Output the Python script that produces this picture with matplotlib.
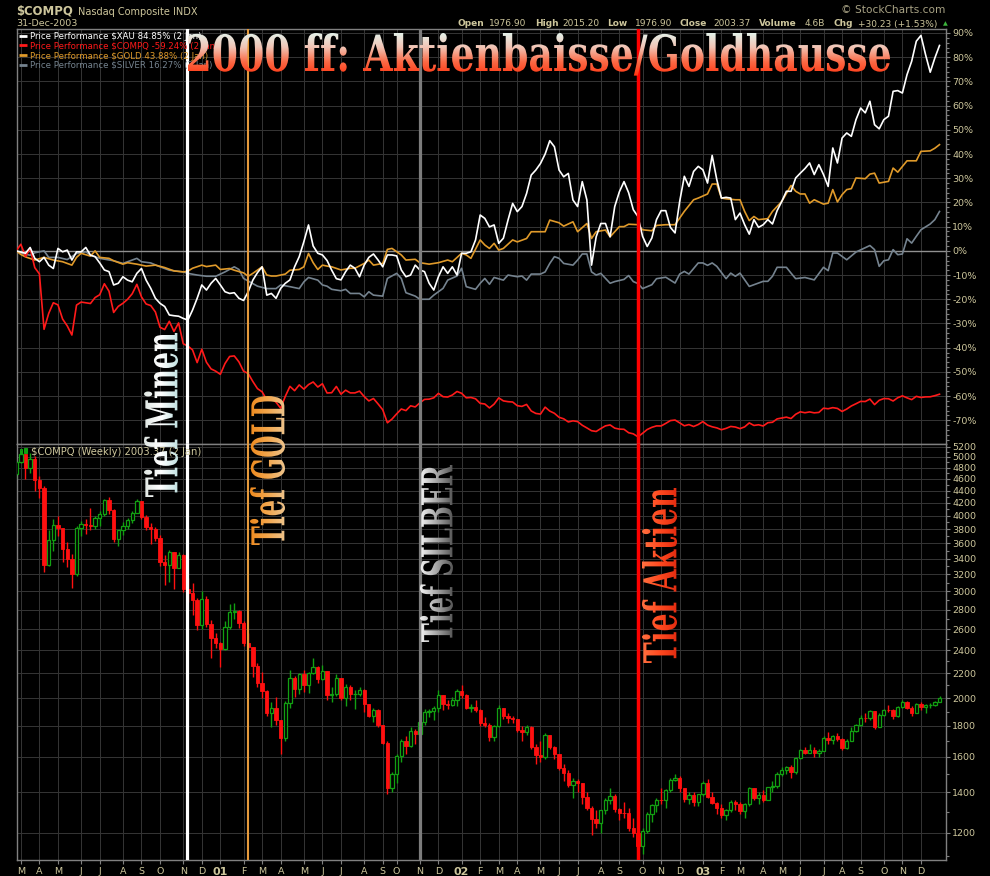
import numpy as np
import pandas as pd
import matplotlib
matplotlib.use("Agg")
import matplotlib.pyplot as plt
from matplotlib.patches import Rectangle, PathPatch
from matplotlib.textpath import TextPath
from matplotlib.font_manager import FontProperties
from matplotlib.colors import LinearSegmentedColormap
from matplotlib.ticker import FixedLocator, NullFormatter
from matplotlib.transforms import Affine2D

plt.rcParams['axes.unicode_minus'] = False
plt.rcParams['font.family'] = 'DejaVu Sans'

# weekly bars (Friday dates), the 14-Sep-2001 week is missing in the chart
bar_dates = pd.date_range("2000-03-03", "2004-01-02", freq="W-FRI")
bar_dates = bar_dates[bar_dates != pd.Timestamp("2001-09-14")]

# Nasdaq weekly closes
compq_close = [
    4914, 5048, 4798, 4963, 4573, 4446, 3321, 3643, 3860, 3817, 3529, 3390, 3205,
    3813, 3874, 3860, 3845, 3966, 4023, 4246, 4094, 3663, 3787, 3849, 3930, 4042,
    4234, 3979, 3835, 3803, 3673, 3361, 3317, 3484, 3278, 3451, 3028, 2980, 2904,
    2645, 2917, 2653, 2517, 2471,
    2407, 2626, 2770, 2781, 2660, 2470, 2425, 2262, 2117, 2052, 1890, 1928, 1840,
    1720, 1961, 2163, 2075, 2192, 2107, 2199, 2252, 2149, 2216, 2028, 2034, 2161,
    2004, 2085, 2030, 2030, 2066, 1956, 1867, 1916, 1805, 1687, 1423, 1499,
    1605, 1703, 1671, 1768, 1745, 1828, 1898, 1903, 1930, 2021, 1953, 1946, 1987,
    2059, 2022, 1930, 1937, 1911, 1818, 1805, 1725, 1802, 1929, 1868, 1852, 1845,
    1770, 1756, 1796, 1663, 1613, 1600, 1741, 1661, 1616, 1535, 1504, 1440, 1463,
    1448, 1373, 1319, 1262, 1247, 1306, 1361, 1380, 1315, 1295, 1291, 1221, 1199,
    1139, 1210, 1287, 1331, 1360, 1359, 1411, 1468, 1479, 1422, 1362, 1387, 1348,
    1388, 1448, 1376, 1342, 1320, 1282, 1310, 1349, 1337, 1305, 1340, 1421, 1369,
    1383, 1358, 1425, 1434, 1502, 1520, 1538, 1510, 1596, 1646, 1627, 1644, 1625,
    1634, 1720, 1708, 1731, 1715, 1653, 1702, 1765, 1810, 1858, 1855, 1905, 1792,
    1880, 1915, 1912, 1866, 1932, 1970, 1930, 1893, 1960, 1937, 1949, 1951, 1974,
    2003.37,
]
compq_high = [
    4960, 5132, 4990, 5080, 5020, 4650, 4470, 3790, 3950, 4000, 3800, 3620, 3460,
    3840, 3920, 3950, 4120, 3990, 4070, 4270, 4290, 4110, 3790, 3900, 3960, 4070,
    4260, 4210, 4010, 3890, 3830, 3720, 3440, 3510, 3490, 3490, 3460, 3160, 3100,
    2930, 3000, 2950, 2690, 2560,
    2480, 2680, 2860, 2870, 2800, 2680, 2560, 2430, 2290, 2210, 2060, 1970, 2010,
    1840, 1980, 2230, 2180, 2200, 2230, 2210, 2330, 2260, 2270, 2220, 2090, 2190,
    2150, 2110, 2100, 2060, 2090, 2070, 1960, 1930, 1920, 1810, 1700, 1510,
    1620, 1710, 1730, 1790, 1780, 1850, 1920, 1920, 1940, 2060, 2020, 1990, 2010,
    2070, 2100, 2030, 1960, 1990, 1920, 1860, 1820, 1810, 1950, 1920, 1890, 1870,
    1850, 1800, 1810, 1800, 1680, 1700, 1750, 1730, 1670, 1620, 1560, 1520, 1480,
    1470, 1450, 1400, 1330, 1310, 1310, 1370, 1420, 1390, 1320, 1350, 1320, 1270,
    1230, 1220, 1300, 1340, 1370, 1420, 1415, 1480, 1500, 1490, 1420, 1400, 1400,
    1390, 1460, 1470, 1400, 1350, 1340, 1315, 1360, 1360, 1350, 1345, 1425, 1410,
    1400, 1410, 1430, 1460, 1510, 1540, 1545, 1550, 1600, 1650, 1660, 1680, 1660,
    1650, 1730, 1760, 1740, 1750, 1720, 1710, 1790, 1815, 1880, 1890, 1910, 1900,
    1890, 1920, 1950, 1920, 1940, 1990, 1980, 1940, 1965, 1970, 1960, 1965, 1980,
    2016,
]
compq_low = [
    4600, 4880, 4590, 4700, 4400, 4280, 3230, 3300, 3500, 3700, 3350, 3290, 3040,
    3180, 3700, 3730, 3790, 3800, 3850, 4000, 4030, 3620, 3560, 3720, 3810, 3890,
    4040, 3950, 3790, 3590, 3630, 3310, 3070, 3110, 3030, 3280, 2990, 2880, 2740,
    2590, 2600, 2620, 2330, 2420,
    2250, 2400, 2600, 2700, 2610, 2440, 2410, 2170, 2090, 2000, 1870, 1790, 1810,
    1620, 1700, 1930, 2010, 2030, 2050, 2040, 2190, 2120, 2140, 1990, 1970, 2020,
    1990, 1940, 1990, 1920, 2020, 1900, 1860, 1830, 1790, 1680, 1390, 1400,
    1450, 1570, 1620, 1660, 1680, 1730, 1810, 1860, 1840, 1900, 1910, 1920, 1940,
    1940, 2000, 1920, 1900, 1900, 1800, 1790, 1700, 1700, 1790, 1850, 1820, 1820,
    1760, 1700, 1740, 1650, 1560, 1570, 1590, 1650, 1590, 1520, 1460, 1430, 1370,
    1400, 1340, 1310, 1190, 1220, 1200, 1290, 1340, 1300, 1260, 1270, 1210, 1180,
    1120, 1108, 1200, 1250, 1300, 1340, 1320, 1400, 1460, 1400, 1350, 1340, 1330,
    1330, 1380, 1370, 1340, 1290, 1270, 1260, 1300, 1310, 1290, 1270, 1330, 1360,
    1340, 1350, 1360, 1400, 1420, 1490, 1500, 1480, 1500, 1590, 1620, 1630, 1600,
    1600, 1640, 1680, 1680, 1700, 1640, 1650, 1700, 1760, 1800, 1830, 1840, 1780,
    1790, 1870, 1900, 1850, 1860, 1930, 1920, 1870, 1890, 1910, 1890, 1930, 1940,
    1976,
]
compq_first_open = 4680

# price performance in %
xau_pct = [
    0, -0.5, -1.0, 1.4, -3.1, -4.5, -2.7, -5.9, -7.3, 1.0, -0.4, 0.3, -3.8, -0.4,
    -0.4, 1.4, -1.8, -2.4, -5.0, -7.9, -8.6, -14.1, -13.4, -10.7, -12.1, -12.8,
    -9.3, -7.3, -12.1, -15.5, -19.6, -21.7, -23.0, -26.5, -26.8, -27.0, -27.9,
    -28.6, -24.5, -19.6, -14.1, -16.2, -13.4, -11.4, -14.1, -16.9, -17.6, -17.3,
    -19.6, -20.5, -16.9, -12.1, -9.0, -6.6, -18.3, -17.6, -19.6, -15.5, -13.4,
    -12.0, -6.6, -2.4, 3.8, 10.7, 2.0, -1.0, -1.7, -4.0, -8.0, -11.5, -12.0, -8.6,
    -5.9, -7.2, -10.7, -5.9, -2.7, -1.3, -3.8, -6.6, -1.7, -1.7, -2.1, -7.9,
    -10.7, -10.0, -5.9, -7.9, -8.6, -13.4, -16.2, -10.7, -6.6, -9.3, -6.6, -10.0,
    -1.0, -1.0, -0.4, 4.5, 14.8, 13.4, 9.9, 10.7, 3.1, 5.2, 12.7, 19.6, 16.2,
    18.3, 23.7, 31.3, 33.4, 36.1, 40.0, 45.5, 43.0, 33.4, 30.6, 32.0, 21.0, 18.3,
    28.6, 21.0, -5.9, 5.8, 11.3, 11.3, 5.8, 18.3, 24.4, 28.6, 24.0, 17.0, 14.2,
    6.0, 1.8, 5.3, 12.9, 16.6, 16.6, 9.7, 7.4, 20.4, 30.8, 26.6, 32.8, 34.9, 33.5,
    28.0, 39.4, 29.4, 21.8, 22.1, 21.8, 12.9, 15.6, 10.8, 6.9, 12.9, 9.7, 10.8,
    12.9, 11.1, 16.6, 20.4, 24.6, 24.6, 30.1, 32.1, 34.0, 36.3, 31.5, 35.6, 31.5,
    26.6, 42.5, 36.3, 46.6, 48.7, 47.3, 54.2, 59.0, 57.0, 61.8, 52.1, 50.4, 54.2,
    55.6, 65.9, 66.2, 65.2, 72.8, 78.3, 86.6, 89.0, 81.0, 73.8, 79.7, 84.85,
]
gold_idx = [
    0, 1, 2, 4, 6, 8, 10, 12, 13, 14, 16, 17, 18, 20, 21, 23, 24, 26, 28, 30, 32,
    34, 36, 37, 38, 40, 41, 43, 44, 46, 47, 49, 50, 51, 53, 54, 55, 56, 58, 59,
    61, 62, 63, 64, 65, 66, 67, 68, 70, 72, 73, 75, 76, 77, 79, 80, 81, 83, 84,
    86, 87, 89, 91, 93, 94, 96, 97, 98, 100, 101, 102, 103, 104, 105, 107, 108,
    110, 111, 114, 115, 117, 118, 120, 121, 123, 124, 125, 127, 128, 130, 131,
    132, 134, 135, 137, 138, 140, 142, 144, 146, 147, 149, 150, 151, 152, 153,
    155, 156, 157, 158, 159, 160, 162, 163, 165, 167, 168, 169, 170, 171, 172,
    174, 175, 176, 177, 178, 179, 180, 181, 183, 184, 185, 186, 188, 189, 190,
    192, 194, 195, 197, 198, 199,
]
gold_pct = [
    0, -1.5, -2.5, -3.8, -2.7, -3.8, -4.5, -5.9, -2.7, -1.0, -2.2, 0, -2.7, -3.1,
    -4.1, -5.5, -4.9, -5.5, -6.3, -5.9, -6.9, -8.3, -8.7, -8.4, -7.2, -5.9, -6.5,
    -5.9, -7.7, -7.3, -8.0, -9.1, -10.5, -9.3, -6.6, -10.0, -10.4, -10.4, -9.6,
    -8.0, -7.7, -6.6, -1.1, -4.9, -7.7, -5.9, -6.3, -6.6, -7.9, -7.2, -7.2, -5.2,
    -3.8, -5.9, -5.2, 0.6, 1.0, -1.7, -3.8, -3.5, -4.9, -5.5, -4.9, -3.8, -4.5,
    -1.0, -1.7, -3.1, 4.5, 2.4, 1.0, 3.1, 0.3, 1.0, 4.5, 3.7, 5.1, 7.9, 7.9, 12.7,
    11.6, 10.2, 12.0, 7.9, 11.3, 5.1, 7.9, 8.6, 5.8, 10.0, 10.0, 11.0, 10.8, 8.7,
    8.3, 10.5, 10.8, 10.8, 16.3, 21.1, 21.8, 23.5, 27.6, 27.6, 21.8, 21.5, 21.1,
    21.1, 16.3, 12.5, 14.2, 12.9, 13.3, 16.3, 20.4, 27.0, 24.6, 23.5, 23.5, 19.7,
    21.1, 19.3, 19.7, 25.3, 20.2, 23.2, 25.3, 25.7, 30.1, 29.8, 31.7, 32.1, 28.0,
    28.7, 34.2, 32.5, 37.2, 37.2, 41.1, 41.3, 42.4, 43.88,
]
silver_idx = [
    0, 1, 3, 4, 6, 7, 9, 11, 13, 15, 16, 18, 21, 23, 24, 26, 27, 29, 31, 33, 36,
    37, 39, 41, 43, 45, 47, 48, 49, 51, 52, 54, 56, 57, 59, 61, 62, 63, 65, 66,
    67, 68, 70, 71, 72, 74, 75, 76, 77, 79, 80, 82, 83, 84, 86, 87, 89, 90, 92,
    93, 95, 96, 97, 99, 100, 101, 102, 103, 105, 106, 108, 109, 110, 111, 113,
    114, 115, 116, 117, 118, 120, 121, 122, 123, 124, 125, 126, 128, 129, 131,
    132, 133, 134, 135, 137, 138, 140, 142, 143, 144, 145, 147, 148, 149, 150,
    151, 153, 154, 155, 156, 158, 160, 161, 162, 163, 164, 166, 167, 168, 170,
    172, 174, 175, 176, 177, 179, 181, 184, 185, 186, 187, 188, 189, 190, 191,
    192, 193, 194, 195, 197, 198, 199,
]
silver_pct = [
    0, -1.0, -1.8, -0.8, 0, -2.7, -2.7, -3.6, -1.1, -0.4, -1.8, -3.1, -4.1, -5.2,
    -4.5, -3.1, -4.5, -5.0, -6.6, -8.0, -8.7, -9.3, -10.0, -10.5, -10.5, -8.7,
    -6.6, -7.7, -11.4, -13.5, -14.6, -15.6, -15.6, -14.1, -14.8, -15.6, -12.8,
    -11.0, -12.1, -14.1, -14.6, -15.9, -16.5, -15.9, -17.6, -17.6, -19.0, -16.9,
    -18.3, -18.7, -11.4, -9.3, -11.4, -17.3, -18.7, -20.0, -20.0, -18.3, -15.5,
    -12.1, -10.4, -7.2, -14.8, -15.9, -13.4, -11.4, -13.8, -11.0, -12.1, -10.0,
    -10.7, -10.4, -12.1, -9.6, -9.6, -8.7, -5.2, -2.4, -3.1, -5.2, -5.9, -3.8,
    -1.3, -1.3, -8.7, -10.0, -9.3, -13.4, -12.7, -11.8, -10.2, -12.7, -13.5,
    -15.6, -14.0, -11.5, -10.9, -13.3, -9.6, -8.5, -9.6, -5.0, -5.0, -6.0, -5.0,
    -6.4, -11.5, -9.2, -10.5, -9.2, -14.7, -13.3, -12.6, -12.6, -10.5, -6.8,
    -6.8, -9.2, -11.5, -11.0, -12.0, -6.8, -8.2, -0.9, -0.9, -3.7, -0.5, 2.2,
    0.5, -6.4, -4.1, -3.7, 0.5, -1.6, -1.3, 5.0, 3.2, 6.0, 8.7, 11.1, 12.9, 16.27,
]

legend_labels = [
    "Price Performance $XAU 84.85% (2 Jan)",
    "Price Performance $COMPQ -59.24% (2 Jan)",
    "Price Performance $GOLD 43.88% (2 Jan)",
    "Price Performance $SILVER 16.27% (2 Jan)",
]
event_bars = [36.8, 50.0, 87.0, 134.0]
event_labels = ["Tief Minen", "Tief GOLD", "Tief SILBER", "Tief Aktien"]

pct_ticks = list(range(-70, 100, 10))
price_ticks = list(range(1200, 5400, 200))

# colours
BG = "black"
GRID = "#333333"
SPINE = "#808080"
BEIGE = "#cdc69c"
GREEN = "#12a012"
RED = "#ff1010"
C_XAU, C_COMPQ, C_GOLD, C_SILVER = "#ffffff", "#ff1a1a", "#e09a2a", "#75838f"
event_colors = ["#ffffff", "#e69a3c", "#7c7c7c", "#ff0000"]
event_widths = [2.3, 1.5, 2.3, 2.5]

W, H = 990, 876
fig = plt.figure(figsize=(W / 100, H / 100), dpi=100, facecolor=BG)


def box(x0, y0, x1, y1):
    return [x0 / W, 1 - y1 / H, (x1 - x0) / W, (y1 - y0) / H]


ax_top = fig.add_axes(box(17, 29, 946, 444))
ax_bot = fig.add_axes(box(17, 444, 946, 860), sharex=ax_top)

n = len(bar_dates)
x = np.arange(n)
close = np.array(compq_close, dtype=float)
opn = np.concatenate([[compq_first_open], close[:-1]])
high = np.maximum(np.array(compq_high, dtype=float), np.maximum(opn, close))
low = np.minimum(np.array(compq_low, dtype=float), np.minimum(opn, close))

# month ticks: first bar whose week starts in a new month
mondays = bar_dates - pd.Timedelta(days=4)
month_key = mondays.year * 12 + mondays.month
tick_pos, tick_lab = [], []
for i in range(1, n):
    if month_key[i] != month_key[i - 1]:
        tick_pos.append(i)
        m = mondays[i]
        tick_lab.append(f"{m.year % 100:02d}" if m.month == 1 else m.strftime("%b")[0])

for ax in (ax_top, ax_bot):
    ax.set_facecolor(BG)
    ax.set_axisbelow(True)
    for s in ax.spines.values():
        s.set_color(SPINE)
        s.set_linewidth(1.0)
    ax.yaxis.tick_right()
    ax.xaxis.set_major_locator(FixedLocator(tick_pos))
    ax.grid(True, which="major", color=GRID, linewidth=0.75)
    ax.tick_params(axis="y", which="both", colors=SPINE, labelcolor=BEIGE,
                   labelsize=6.8, width=0.8, pad=1.5, direction="out")
    ax.tick_params(axis="y", which="major", length=3)
    ax.tick_params(axis="y", which="minor", length=1.8)

# upper panel: price performance
ax_top.plot(silver_idx, silver_pct, color=C_SILVER, lw=1.2, zorder=3)
ax_top.plot(gold_idx, gold_pct, color=C_GOLD, lw=1.2, zorder=3)
compq_pct = (close / close[0] - 1) * 100
ax_top.plot(x, compq_pct, color=C_COMPQ, lw=1.2, zorder=3)
ax_top.plot(x, xau_pct, color=C_XAU, lw=1.2, zorder=4)
ax_top.axhline(0, color="#909090", lw=1.0, zorder=2)
ax_top.set_ylim(-79.8, 91.65)
ax_top.yaxis.set_major_locator(FixedLocator(pct_ticks))
ax_top.set_yticklabels([f"{v}%" for v in pct_ticks])
ax_top.yaxis.set_minor_locator(FixedLocator(np.arange(-78, 92, 2)))
ax_top.yaxis.set_minor_formatter(NullFormatter())
ax_top.tick_params(axis="x", bottom=False, labelbottom=False)

# lower panel: weekly candles
up = close >= opn
ax_bot.vlines(x, low, high, colors=np.where(up, GREEN, RED), linewidth=1.0, zorder=3)
ax_bot.bar(x[~up], (opn - close)[~up], bottom=close[~up], width=0.72,
           color=RED, edgecolor=RED, linewidth=0.6, zorder=4)
ax_bot.bar(x[up], (close - opn)[up], bottom=opn[up], width=0.72,
           facecolor=BG, edgecolor=GREEN, linewidth=0.9, zorder=4)
ax_bot.set_yscale("log")
ax_bot.set_ylim(1082, 5252)
ax_bot.yaxis.set_major_locator(FixedLocator(price_ticks))
ax_bot.yaxis.set_minor_locator(FixedLocator(np.arange(1100, 5300, 100)))
ax_bot.yaxis.set_minor_formatter(NullFormatter())
ax_bot.set_yticklabels([str(v) for v in price_ticks])
ax_bot.set_xticklabels(tick_lab)
ax_bot.tick_params(axis="x", colors=SPINE, labelcolor=BEIGE, labelsize=6.8,
                   length=3, width=0.8, pad=2)
for lab in ax_bot.get_xticklabels():
    if lab.get_text().isdigit():
        lab.set_fontweight("bold")
        lab.set_fontsize(8)
ax_bot.set_xlim(0.17, 200.4)

for b, c, w in zip(event_bars, event_colors, event_widths):
    for ax in (ax_top, ax_bot):
        ax.axvline(b, color=c, lw=w, zorder=5)

# overlay in pixel coordinates for header, legend and gradient lettering
ov = fig.add_axes([0, 0, 1, 1], zorder=10)
ov.set_xlim(0, W)
ov.set_ylim(H, 0)
ov.axis("off")
ov.patch.set_alpha(0)

serif = FontProperties(family="DejaVu Serif", weight="bold")


def gradient_text(s, x0, y0, x1, y1, colors, vertical=False, base=None):
    tp = TextPath((0, 0), s, size=100, prop=serif)
    bb = tp.get_extents()
    if vertical:
        kx = (x1 - x0) / bb.height
        ky = (y1 - y0) / bb.width
        tr = Affine2D.from_values(0, -ky, -kx, 0, x0 + bb.y1 * kx, y1 + bb.x0 * ky)
        vals = np.linspace(0, 1, 256).reshape(1, -1)
    else:
        top = TextPath((0, 0), "2000 Akdhl", size=100, prop=serif).get_extents().y1
        kx = (x1 - x0) / bb.width
        ky = (base - y0) / top
        tr = Affine2D.from_values(kx, 0, 0, -ky, x0 - bb.x0 * kx, base)
        vals = np.linspace(0, 1, 256).reshape(-1, 1)
    path = tr.transform_path(tp)
    ext = path.get_extents()
    patch = PathPatch(path, facecolor="none", edgecolor="none", transform=ov.transData)
    ov.add_patch(patch)
    cmap = LinearSegmentedColormap.from_list("g", colors)
    im = ov.imshow(vals, cmap=cmap, extent=(ext.x0, ext.x1, ext.y1, ext.y0),
                   origin="upper", aspect="auto", interpolation="bilinear", zorder=12)
    im.set_clip_path(patch)


gradient_text("2000 ff: Aktienbaisse/Goldhausse", 188, 33, 890, None,
              ["#e4f2ea", "#f2c4b4", "#fb6a46", "#ff3410"], base=71)

vbox = [(144, 333, 178, 497), (250, 396, 285, 545), (420, 465, 453, 642), (642, 488, 677, 663)]
vcol = [["#dfe6e2", "#ffffff", "#c2e2e2"],
        ["#ee8a1e", "#f3a64c", "#eec48c"],
        ["#f4f4f4", "#a8a8a8", "#555555"],
        ["#ff7040", "#ff4a20", "#e22c10"]]
for lab, bx, cl in zip(event_labels, vbox, vcol):
    gradient_text(lab, *bx, cl, vertical=True)
ov.set_xlim(0, W)
ov.set_ylim(H, 0)

# header
ov.text(16, 15, "$COMPQ", color=BEIGE, fontsize=8.4, fontweight="bold", va="baseline")
ov.text(78, 15, "Nasdaq Composite INDX", color=BEIGE, fontsize=7, va="baseline")
ov.text(16, 26.5, "31-Dec-2003", color=BEIGE, fontsize=6.8, va="baseline")
ov.text(945, 13, "\u00a9 StockCharts.com", color="#a8a284", fontsize=7.6,
        ha="right", va="baseline")
header = [("Open", 458, True), ("1976.90", 489, False), ("High", 535, True),
          ("2015.20", 562, False), ("Low", 607, True), ("1976.90", 635, False),
          ("Close", 679, True), ("2003.37", 713, False), ("Volume", 759, True),
          ("4.6B", 805, False), ("Chg", 833, True), ("+30.23 (+1.53%)", 858, False)]
for txt, hx, bold in header:
    ov.text(hx, 26.5, txt, color=BEIGE, fontsize=6.5,
            fontweight="bold" if bold else "normal", va="baseline")
ov.text(945, 25.5, "\u25b2", color="#3cb43c", fontsize=4.5, ha="center", va="baseline")

# legend of the upper panel
for k, (lab, col) in enumerate(zip(legend_labels, [C_XAU, C_COMPQ, C_GOLD, C_SILVER])):
    yb = 39 + 9.8 * k
    ov.plot([19, 27], [yb - 3.5, yb - 3.5], color=col, lw=2, solid_capstyle="butt", zorder=11)
    ov.text(30, yb, lab, color=col, fontsize=6.2, va="baseline", zorder=11)

# label of the lower panel
ov.add_patch(Rectangle((19.5, 448.5), 2.5, 5, facecolor="none", edgecolor=GREEN, lw=0.8, zorder=11))
ov.add_patch(Rectangle((24, 447.5), 2.5, 5, facecolor=GREEN, edgecolor=GREEN, lw=0.8, zorder=11))
ov.text(31, 455, "$COMPQ (Weekly) 2003.37 (2 Jan)", color=BEIGE, fontsize=7.2,
        va="baseline", zorder=11)

fig.savefig("out.png", dpi=100, facecolor=BG)
